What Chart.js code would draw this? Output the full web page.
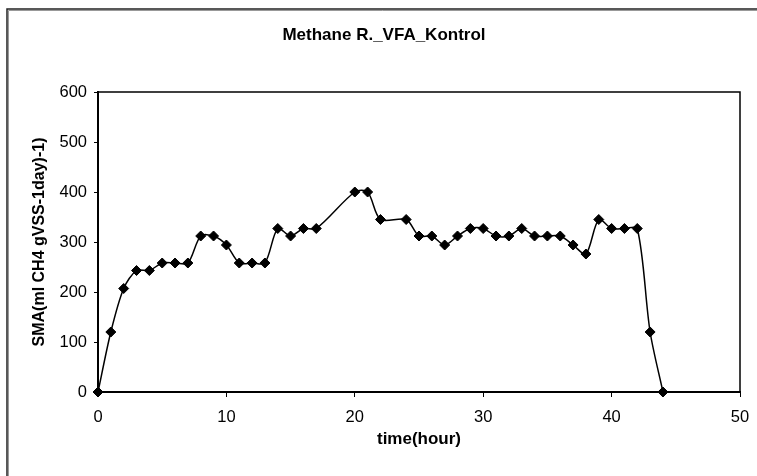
<!DOCTYPE html>
<html>
<head>
<meta charset="utf-8">
<script src="https://cdn.jsdelivr.net/npm/chart.js@4/dist/chart.umd.min.js"></script>
<style>
  html, body { margin: 0; padding: 0; background: #fff; }
  #wrap { width: 757px; height: 476px; position: relative; }
</style>
</head>
<body>
<div id="wrap"><canvas id="c" width="757" height="476"></canvas></div>
<script>
const chartTitle = "Methane R._VFA_Kontrol";
const xTitle = "time(hour)";
const yTitle = "SMA(ml CH4 gVSS-1day)-1)";
const hours = [0,1,2,3,4,5,6,7,8,9,10,11,12,13,14,15,16,17,20,21,22,24,25,26,27,28,29,30,31,32,33,34,35,36,37,38,39,40,41,42,43,44];
const sma   = [0,120,207,243,243,258,258,258,312,312,294,258,258,258,327,312,327,327,400,400,345,345,312,312,294,312,327,327,312,312,327,312,312,312,294,276,345,327,327,327,120,0];
const xTicks = [0,10,20,30,40,50];
const yTicks = [0,100,200,300,400,500,600];

const FONT = '"Liberation Sans", Arial, sans-serif';

const framePlugin = {
  id: 'frame',
  beforeDraw(chart) {
    const ctx = chart.ctx;
    ctx.save();
    ctx.fillStyle = '#fff';
    ctx.fillRect(0, 0, chart.width, chart.height);
    ctx.strokeStyle = '#999';
    ctx.lineWidth = 1;
    ctx.beginPath();
    ctx.moveTo(8.5, 476); ctx.lineTo(8.5, 10.5); ctx.lineTo(757, 10.5);
    ctx.stroke();
    ctx.strokeStyle = '#222';
    ctx.lineWidth = 1.5;
    ctx.beginPath();
    ctx.moveTo(7, 476); ctx.lineTo(7, 9); ctx.lineTo(757, 9);
    ctx.stroke();
    ctx.restore();
  },
  afterDraw(chart) {
    const a = chart.chartArea;
    const ctx = chart.ctx;
    ctx.save();
    ctx.strokeStyle = '#000';
    ctx.lineWidth = 1.5;
    ctx.beginPath();
    ctx.moveTo(a.left, a.top); ctx.lineTo(a.right, a.top); ctx.lineTo(a.right, a.bottom);
    ctx.stroke();
    ctx.restore();
  }
};

new Chart(document.getElementById('c'), {
  type: 'line',
  data: {
    datasets: [{
      label: 'SMA',
      data: hours.map((h, i) => ({ x: h, y: sma[i] })),
      borderColor: '#000',
      borderWidth: 1.5,
      backgroundColor: '#000',
      pointStyle: 'rectRot',
      pointRadius: 5,
      pointBorderWidth: 1,
      pointBackgroundColor: '#000',
      pointBorderColor: '#000',
      tension: 0.3,
      fill: false,
      clip: false
    }]
  },
  options: {
    responsive: false,
    animation: false,
    devicePixelRatio: 1,
    layout: { padding: { left: 28, right: 17, top: 0, bottom: 0 } },
    plugins: {
      legend: { display: false },
      tooltip: { enabled: false },
      title: {
        display: true,
        text: chartTitle,
        color: '#000',
        font: { family: FONT, size: 17, weight: 'bold', lineHeight: 1.2 },
        padding: { top: 24.8, bottom: 46.8 }
      }
    },
    scales: {
      x: {
        type: 'linear',
        min: 0, max: 50,
        afterBuildTicks(axis) { axis.ticks = xTicks.map(v => ({ value: v })); },
        afterFit(axis) { axis.height = 84; axis.paddingRight = 0; axis.paddingLeft = 0; },
        ticks: { color: '#000', font: { family: FONT, size: 16.5 }, padding: 11, maxRotation: 0 },
        grid: { display: true, drawOnChartArea: false, drawTicks: true, tickLength: 5, color: '#000', lineWidth: 1 },
        border: { display: true, color: '#000', width: 2 },
        title: {
          display: true, text: xTitle, color: '#000',
          font: { family: FONT, size: 17, weight: 'bold', lineHeight: 1.2 },
          padding: { top: 0, bottom: 26.8 }
        }
      },
      y: {
        type: 'linear',
        min: 0, max: 600,
        afterBuildTicks(axis) { axis.ticks = yTicks.map(v => ({ value: v })); },
        afterFit(axis) { axis.width = 70; },
        ticks: { color: '#000', font: { family: FONT, size: 16.5 }, padding: 7 },
        grid: { display: true, drawOnChartArea: false, drawTicks: true, tickLength: 4, color: '#000', lineWidth: 1 },
        border: { display: true, color: '#000', width: 2 },
        title: {
          display: true, text: yTitle, color: '#000',
          font: { family: FONT, size: 16, weight: 'bold', lineHeight: 1.2 },
          padding: { top: 2, bottom: 0 }
        }
      }
    }
  },
  plugins: [framePlugin]
});
</script>
</body>
</html>
